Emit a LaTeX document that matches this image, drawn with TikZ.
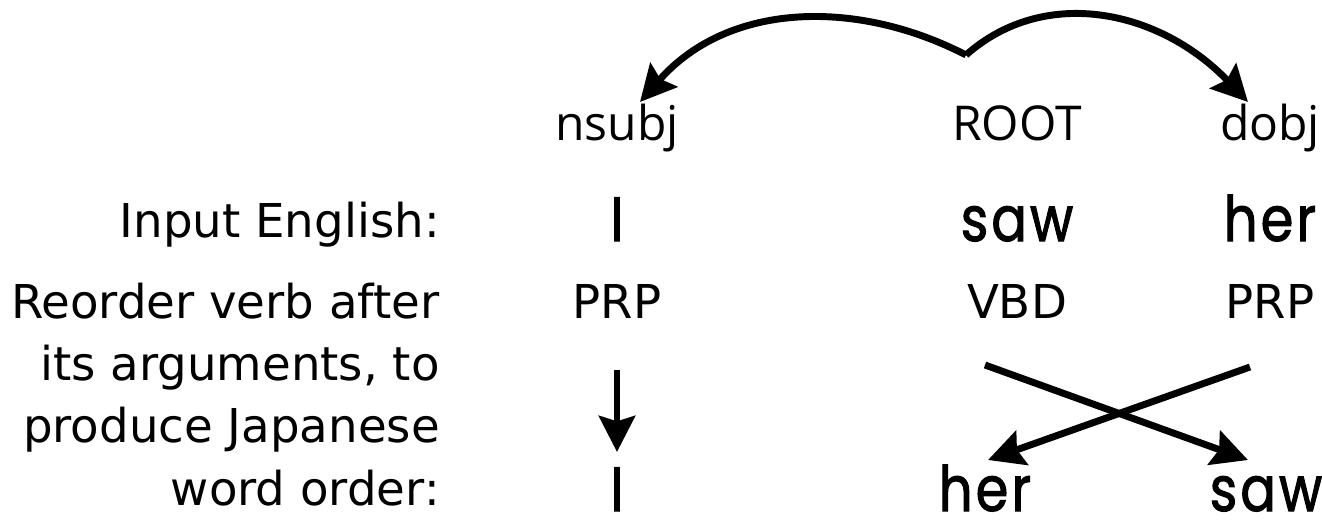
\documentclass[tikz,border=0pt]{standalone}
\usepackage{fontspec}
\setmainfont{DejaVu Sans}
\newfontfamily\relfont{Open Sans}
\newfontfamily\wordfont[FakeStretch=0.84,FakeBold=1.6,LetterSpace=5]{Poppins}
\usetikzlibrary{arrows.meta}
\begin{document}
\begin{tikzpicture}[x=0.75pt,y=-0.75pt,
  rel/.style={font=\relfont\fontsize{36}{40}\selectfont,anchor=base,inner sep=0pt},
  tag/.style={font=\fontsize{35}{40}\selectfont,anchor=base,inner sep=0pt},
  word/.style={font=\wordfont\fontsize{47}{50}\selectfont,anchor=base,inner sep=0pt},
  caption/.style={font=\fontsize{35}{40}\selectfont,anchor=base east,inner sep=0pt},
  link/.style={line width=5.2pt,-{Stealth[length=27pt,width=27pt,inset=4pt]}}]
\useasboundingbox (0,0) rectangle (1322,532);
% dependency labels
\node[rel] (nsubj) at (617,140) {nsubj};
\node[rel] (root) at (1017,140) {ROOT};
\node[rel] (dobj) at (1270,140) {dobj};
% input sentence
\node[caption] (inlab) at (440,237) {Input English:};
\node[word] (i1) at (617,241) {I};
\node[word] (saw1) at (1017,241) {saw};
\node[word] (her1) at (1270,241) {her};
% part-of-speech tags
\node[tag] (prp1) at (617,318) {PRP};
\node[tag] (vbd) at (1017,318) {VBD};
\node[tag] (prp2) at (1270,318) {PRP};
% explanation
\node[caption] (c1) at (440,318) {Reorder verb after};
\node[caption] (c2) at (440,380) {its arguments, to};
\node[caption] (c3) at (440,442) {produce Japanese};
\node[caption] (c4) at (440,505) {word order:};
% reordered sentence
\node[word] (i2) at (617,511) {I};
\node[word] (her2) at (985,511) {her};
\node[word] (saw2) at (1266,511) {saw};
% arcs and reordering arrows
\coordinate (rootarc) at (966,55);
\coordinate (nsubjtip) at (640,102);
\coordinate (dobjtip) at (1248,102);
\draw[link] (rootarc) .. controls (860,0) and (730,0) .. (nsubjtip);
\draw[link] (rootarc) .. controls (1045,-15) and (1160,10) .. (dobjtip);
\coordinate (a1) at (617,370);
\coordinate (a2) at (617,452);
\draw[link] (a1) -- (a2);
\coordinate (v1) at (985,365);
\coordinate (v2) at (1248,460);
\coordinate (p1) at (1250,367);
\coordinate (p2) at (988,460);
\draw[link] (v1) -- (v2);
\draw[link] (p1) -- (p2);
\end{tikzpicture}
\end{document}
